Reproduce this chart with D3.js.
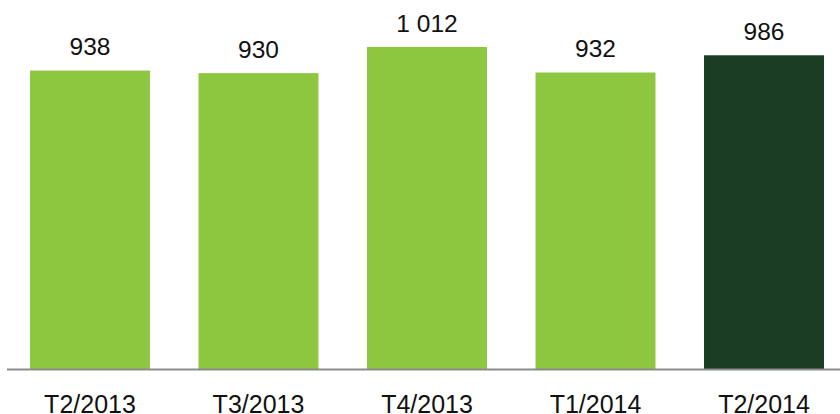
<!DOCTYPE html>
<html><head><meta charset="utf-8">
<script src="https://cdn.jsdelivr.net/npm/d3@7"></script>
<style>body{margin:0;background:#fff}svg{display:block}</style>
</head><body>
<script>
const categories = ["T2/2013","T3/2013","T4/2013","T1/2014","T2/2014"];
const values = [938, 930, 1012, 932, 986];
const labels = ["938","930","1 012","932","986"];
const colors = ["#8dc63f","#8dc63f","#8dc63f","#8dc63f","#1a3d23"];

const W = 840, H = 414, base = 369.5;
const svg = d3.select("body").append("svg").attr("width", W).attr("height", H);
const x = d3.scaleBand().domain(categories).range([30, 824]).paddingInner(0.288).paddingOuter(0);
const y = d3.scaleLinear().domain([0, 1012]).range([base, 47]);

svg.selectAll("rect.bar").data(values).join("rect")
  .attr("class","bar")
  .attr("x", (d,i) => x(categories[i]))
  .attr("y", d => y(d))
  .attr("width", x.bandwidth())
  .attr("height", d => base - y(d))
  .attr("fill", (d,i) => colors[i]);

svg.append("line").attr("x1", 7).attr("x2", 840).attr("y1", base).attr("y2", base)
  .attr("stroke", "#8c8c8c").attr("stroke-width", 2);

svg.selectAll("text.val").data(values).join("text")
  .attr("class","val")
  .attr("x", (d,i) => x(categories[i]) + x.bandwidth()/2)
  .attr("y", d => y(d) - 15.5)
  .attr("text-anchor","middle")
  .attr("font-family","Liberation Sans, Arial, sans-serif")
  .attr("font-size", 24.5)
  .attr("fill","#111")
  .text((d,i) => labels[i]);

const xAxis = d3.axisBottom(x).tickSize(0).tickPadding(0);
const g = svg.append("g").attr("transform", `translate(0,${base})`).call(xAxis);
g.select(".domain").remove();
g.selectAll("text")
  .attr("y", 43.5).attr("dy", 0)
  .attr("font-family","Liberation Sans, Arial, sans-serif")
  .attr("font-size", 25)
  .attr("fill","#111");
</script>
</body></html>
